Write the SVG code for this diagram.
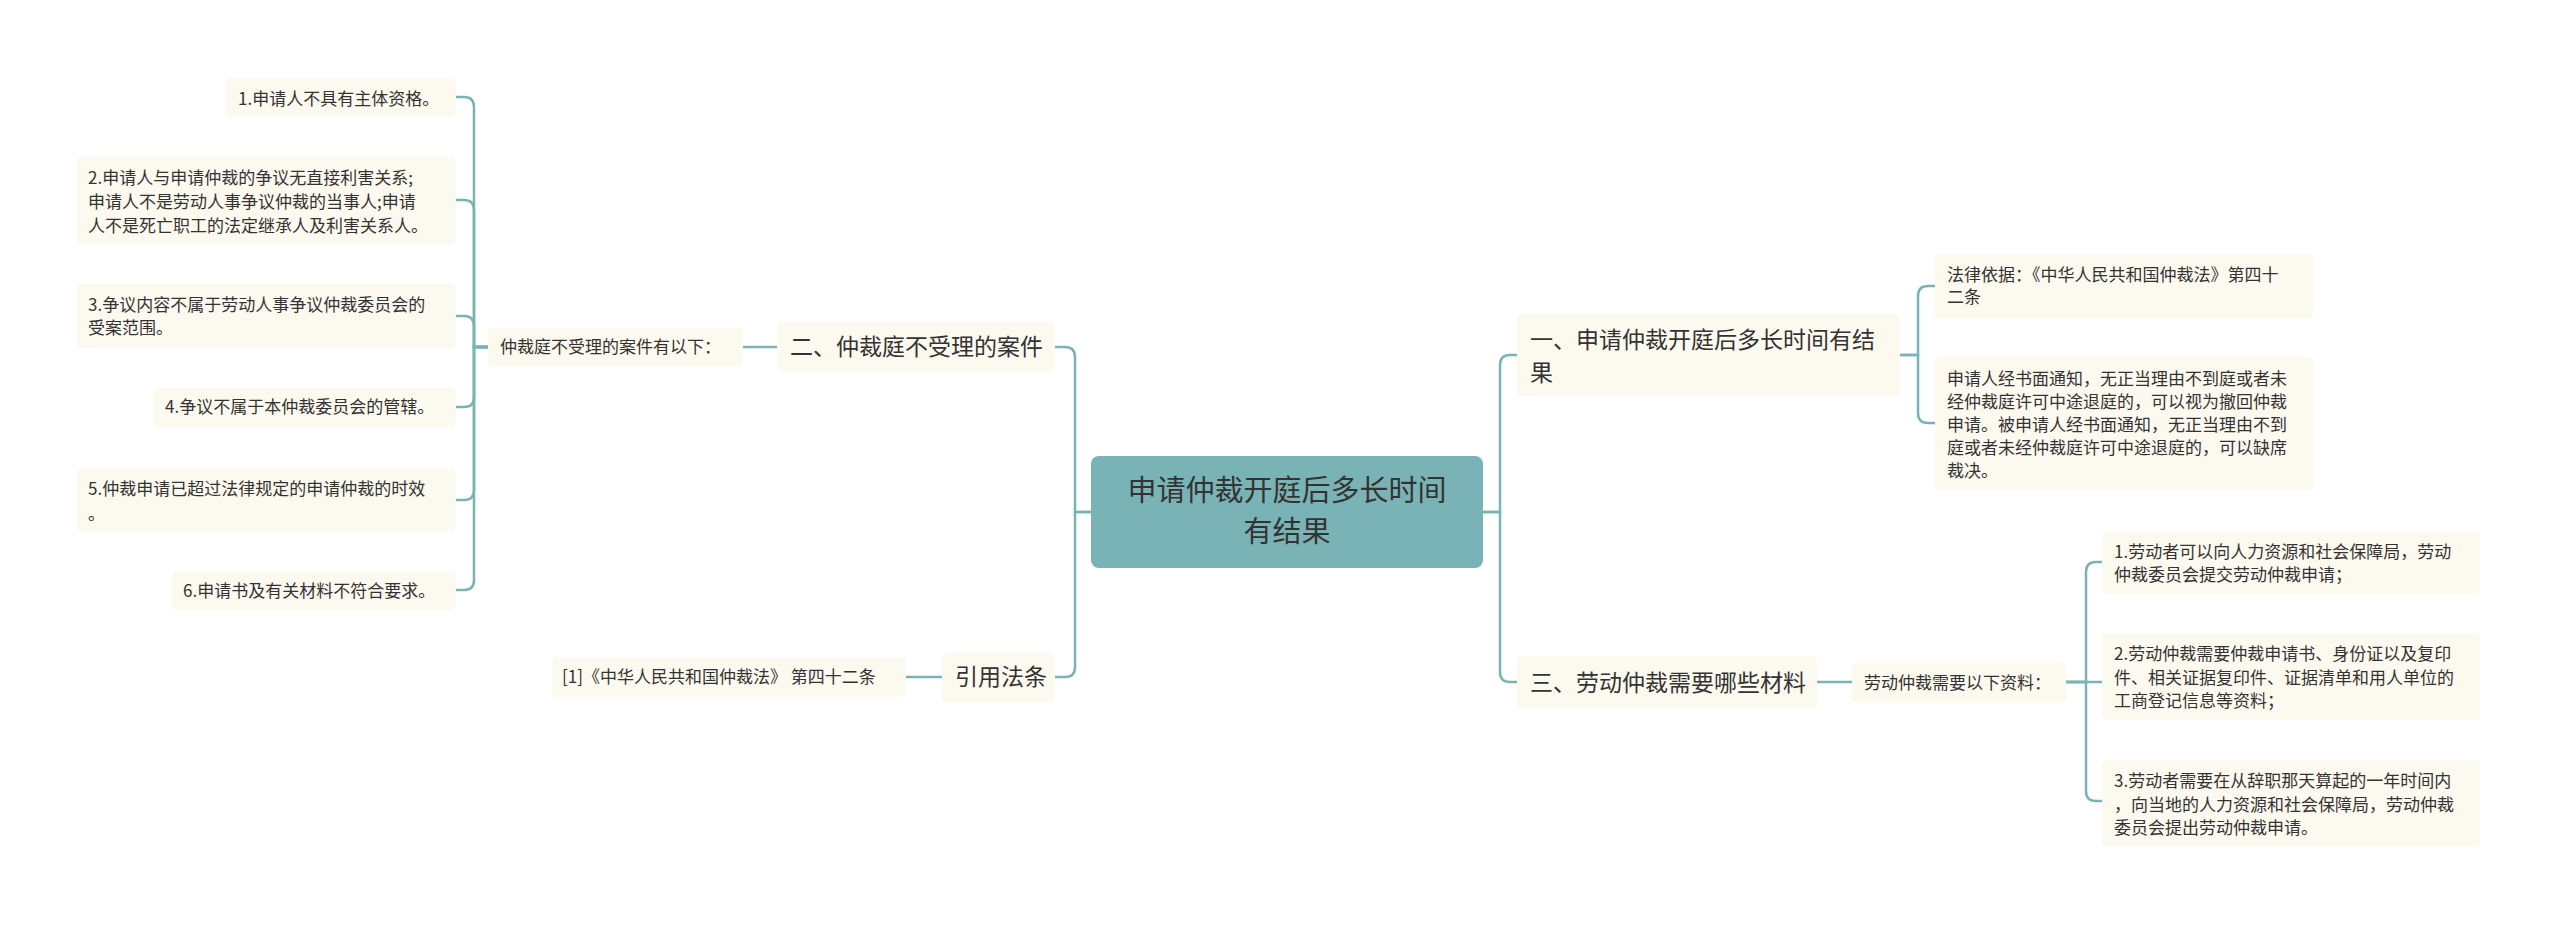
<svg xmlns="http://www.w3.org/2000/svg" width="2560" height="925" viewBox="0 0 2560 925">
<style>
text{font-family:"Noto Sans CJK SC","Liberation Sans",sans-serif;fill:#333}
.n{fill:#fcf9ef}
.s{font-size:17px}
.m{font-size:23px}
.c{fill:none;stroke:#7ab3b5;stroke-width:2.5}
</style>
<rect width="2560" height="925" fill="#fff"/>
<g id="connectors">
<path class="c" d="M488 347H474V107Q474 97 464 97H456"/>
<path class="c" d="M488 347H474V210Q474 200 464 200H456"/>
<path class="c" d="M488 347H474V326Q474 316 464 316H456"/>
<path class="c" d="M488 347H474V397Q474 407 464 407H456"/>
<path class="c" d="M488 347H474V490Q474 500 464 500H456"/>
<path class="c" d="M488 347H474V580Q474 590 464 590H456"/>
<path class="c" d="M1091 512H1075V357Q1075 347 1065 347H1055"/>
<path class="c" d="M1091 512H1075V667Q1075 677 1065 677H1055"/>
<path class="c" d="M777 347H743"/>
<path class="c" d="M942 677H906"/>
<path class="c" d="M1483 512H1500V365Q1500 355 1510 355H1517"/>
<path class="c" d="M1483 512H1500V672Q1500 682 1510 682H1517"/>
<path class="c" d="M1900 355H1918V296Q1918 286 1928 286H1935"/>
<path class="c" d="M1900 355H1918V413Q1918 423 1928 423H1935"/>
<path class="c" d="M1817 682H1852"/>
<path class="c" d="M2066 682H2086V572Q2086 562 2096 562H2102"/>
<path class="c" d="M2066 682H2102"/>
<path class="c" d="M2066 682H2086V791Q2086 801 2096 801H2102"/>
</g>
<g id="root"><rect x="1091" y="456" width="392" height="112" rx="8" fill="#7ab3b5"/>
<text x="1287" y="501" font-size="29" text-anchor="middle">申请仲裁开庭后多长时间</text>
<text x="1287" y="542" font-size="29" text-anchor="middle">有结果</text></g>
<g id="b2"><rect class="n" x="777" y="322" width="278" height="50" rx="5"/><text class="m" x="790" y="355">二、仲裁庭不受理的案件</text></g>
<g id="b4"><rect class="n" x="942" y="653" width="113" height="49" rx="5"/><text class="m" x="955" y="685">引用法条</text></g>
<g id="s2"><rect class="n" x="488" y="328" width="255" height="38" rx="5"/><text class="s" x="500" y="353">仲裁庭不受理的案件有以下：</text></g>
<g id="s4"><rect class="n" x="552" y="658" width="354" height="39" rx="5"/><text class="s" x="562" y="683">[1]《中华人民共和国仲裁法》 第四十二条</text></g>
<g id="l1"><rect class="n" x="226" y="78" width="230" height="39" rx="5"/><text class="s" x="238" y="105">1.申请人不具有主体资格。</text></g>
<g id="l2"><rect class="n" x="77" y="157" width="379" height="87" rx="5"/><text class="s" x="88" y="184">2.申请人与申请仲裁的争议无直接利害关系;</text><text class="s" x="88" y="208">申请人不是劳动人事争议仲裁的当事人;申请</text><text class="s" x="88" y="232">人不是死亡职工的法定继承人及利害关系人。</text></g>
<g id="l3"><rect class="n" x="77" y="284" width="379" height="64" rx="5"/><text class="s" x="88" y="311">3.争议内容不属于劳动人事争议仲裁委员会的</text><text class="s" x="88" y="334">受案范围。</text></g>
<g id="l4"><rect class="n" x="153" y="388" width="303" height="39" rx="5"/><text class="s" x="165" y="413">4.争议不属于本仲裁委员会的管辖。</text></g>
<g id="l5"><rect class="n" x="77" y="469" width="379" height="62" rx="5"/><text class="s" x="88" y="495">5.仲裁申请已超过法律规定的申请仲裁的时效</text><text class="s" x="88" y="520">。</text></g>
<g id="l6"><rect class="n" x="172" y="571" width="284" height="39" rx="5"/><text class="s" x="183" y="597">6.申请书及有关材料不符合要求。</text></g>
<g id="b1"><rect class="n" x="1517" y="314" width="383" height="82" rx="5"/><text class="m" x="1530" y="348">一、申请仲裁开庭后多长时间有结</text><text class="m" x="1530" y="381">果</text></g>
<g id="b3"><rect class="n" x="1517" y="656" width="300" height="52" rx="5"/><text class="m" x="1530" y="691">三、劳动仲裁需要哪些材料</text></g>
<g id="s3"><rect class="n" x="1852" y="663" width="214" height="40" rx="5"/><text class="s" x="1864" y="689">劳动仲裁需要以下资料：</text></g>
<g id="r1"><rect class="n" x="1935" y="254" width="378" height="64" rx="5"/><text class="s" x="1947" y="281">法律依据：《中华人民共和国仲裁法》第四十</text><text class="s" x="1947" y="303">二条</text></g>
<g id="r2"><rect class="n" x="1935" y="357" width="378" height="133" rx="5"/><text class="s" x="1947" y="385">申请人经书面通知，无正当理由不到庭或者未</text><text class="s" x="1947" y="408">经仲裁庭许可中途退庭的，可以视为撤回仲裁</text><text class="s" x="1947" y="431">申请。被申请人经书面通知，无正当理由不到</text><text class="s" x="1947" y="454">庭或者未经仲裁庭许可中途退庭的，可以缺席</text><text class="s" x="1947" y="477">裁决。</text></g>
<g id="r3"><rect class="n" x="2102" y="531" width="378" height="63" rx="5"/><text class="s" x="2114" y="558">1.劳动者可以向人力资源和社会保障局，劳动</text><text class="s" x="2114" y="581">仲裁委员会提交劳动仲裁申请；</text></g>
<g id="r4"><rect class="n" x="2102" y="634" width="378" height="86" rx="5"/><text class="s" x="2114" y="660">2.劳动仲裁需要仲裁申请书、身份证以及复印</text><text class="s" x="2114" y="684">件、相关证据复印件、证据清单和用人单位的</text><text class="s" x="2114" y="707">工商登记信息等资料；</text></g>
<g id="r5"><rect class="n" x="2102" y="760" width="378" height="86" rx="5"/><text class="s" x="2114" y="787">3.劳动者需要在从辞职那天算起的一年时间内</text><text class="s" x="2114" y="811">，向当地的人力资源和社会保障局，劳动仲裁</text><text class="s" x="2114" y="834">委员会提出劳动仲裁申请。</text></g>
</svg>
